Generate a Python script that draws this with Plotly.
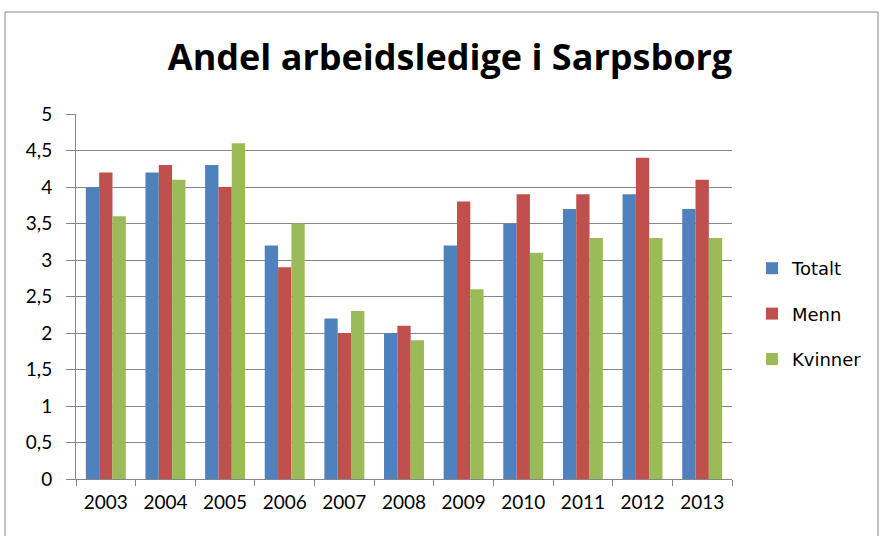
import plotly.graph_objects as go

years = ["2003", "2004", "2005", "2006", "2007", "2008", "2009", "2010", "2011", "2012", "2013"]
totalt = [4.0, 4.2, 4.3, 3.2, 2.2, 2.0, 3.2, 3.5, 3.7, 3.9, 3.7]
menn = [4.2, 4.3, 4.0, 2.9, 2.0, 2.1, 3.8, 3.9, 3.9, 4.4, 4.1]
kvinner = [3.6, 4.1, 4.6, 3.5, 2.3, 1.9, 2.6, 3.1, 3.3, 3.3, 3.3]
y_ticks = [0, 0.5, 1, 1.5, 2, 2.5, 3, 3.5, 4, 4.5, 5]
y_tick_labels = ["0", "0,5", "1", "1,5", "2", "2,5", "3", "3,5", "4", "4,5", "5"]

series = [("Totalt", totalt, "#4F81BD"), ("Menn", menn, "#C0504D"), ("Kvinner", kvinner, "#9BBB59")]

fig = go.Figure()
for name, vals, col in series:
    fig.add_trace(go.Bar(x=years, y=vals, name=name, marker=dict(color=col, line=dict(width=0)),
                         legendgroup=name))

W, H = 881, 536
L, R, T, B = 76, 149, 114, 57
pw, ph = W - L - R, H - T - B

tick_font = dict(family="Lato, sans-serif", size=19, color="black")

fig.update_layout(
    width=W, height=H,
    margin=dict(l=L, r=R, t=T, b=B),
    paper_bgcolor="white", plot_bgcolor="white",
    barmode="group", bargap=0.33, bargroupgap=0,
    title=dict(text="<b>Andel arbeidsledige i Sarpsborg</b>", x=450 / W, xanchor="center",
               y=1 - 57.5 / H, yanchor="middle",
               font=dict(family="Open Sans, sans-serif", size=36, color="black")),
    legend=dict(x=(752 - L) / pw, xanchor="left", y=0.5 - (314 - (T + ph / 2)) / ph, yanchor="middle",
                font=dict(family="DejaVu Sans, sans-serif", size=18, color="black"),
                tracegroupgap=19, itemwidth=30, bgcolor="rgba(0,0,0,0)"),
    font=dict(family="Lato, sans-serif", color="black"),
    xaxis=dict(showgrid=False, showline=True, linecolor="#868686", linewidth=1,
               ticks="outside", tickson="boundaries", ticklen=6, tickcolor="#868686",
               tickfont=tick_font, ticklabelstandoff=6, fixedrange=True),
    yaxis=dict(range=[0, 5], tickvals=y_ticks, ticktext=y_tick_labels,
               showgrid=True, gridcolor="#868686", gridwidth=1,
               showline=True, linecolor="#868686", linewidth=1,
               ticks="outside", ticklen=9, tickcolor="#868686",
               tickfont=tick_font, ticklabelstandoff=10,
               zeroline=False, fixedrange=True),
    shapes=[dict(type="rect", xref="paper", yref="paper",
                 x0=(5 - L) / pw, x1=(878 - L) / pw,
                 y0=-(560 - (H - B)) / ph, y1=1 + (T - 12) / ph,
                 line=dict(color="#868686", width=1), fillcolor="rgba(0,0,0,0)", layer="below")],
)

fig.write_html("out.html", config={"displayModeBar": False},
               post_script="document.body.style.margin='0';document.body.style.overflow='hidden';")
